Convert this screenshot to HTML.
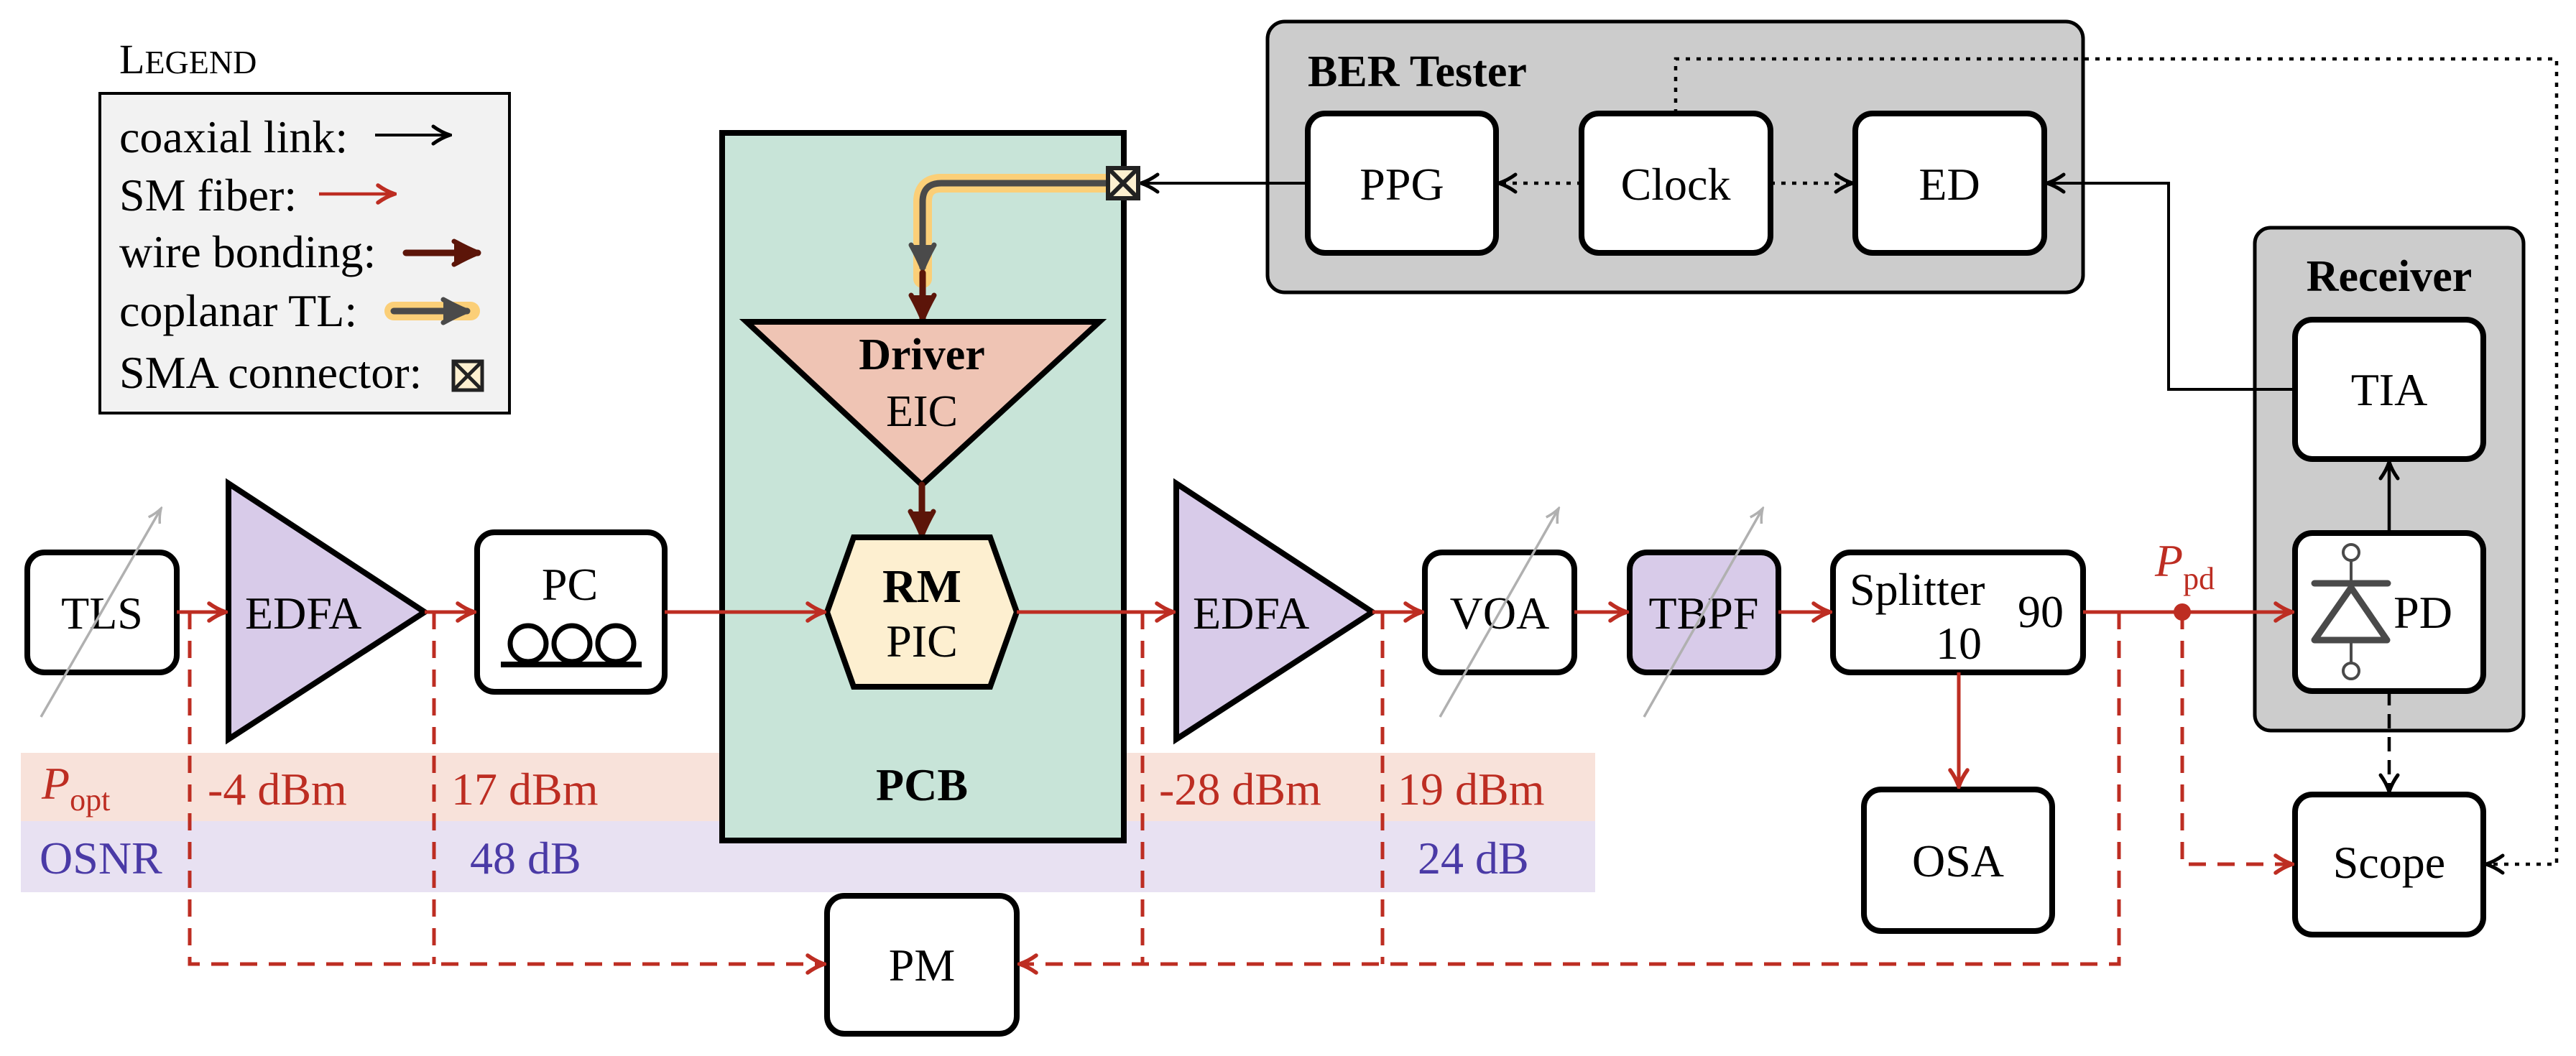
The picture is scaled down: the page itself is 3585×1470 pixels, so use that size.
<!DOCTYPE html>
<html><head><meta charset="utf-8"><style>
html,body{margin:0;padding:0;background:#fff;}
svg{display:block;font-family:"Liberation Serif","DejaVu Serif",serif;}
text{font-family:"Liberation Serif","DejaVu Serif",serif;}
</style></head><body>
<svg width="3585" height="1470" viewBox="0 0 3585 1470" xmlns="http://www.w3.org/2000/svg" font-family="Liberation Serif, DejaVu Serif, serif">
<defs>
<marker id="ar" markerUnits="userSpaceOnUse" viewBox="0 0 34 34" refX="31" refY="17" markerWidth="34" markerHeight="34" orient="auto"><path d="M8,5 Q19,13 31,17 Q19,21 8,29" fill="none" stroke="#bd2d22" stroke-width="5.5" stroke-linecap="round"/></marker>
<marker id="ak" markerUnits="userSpaceOnUse" viewBox="0 0 34 34" refX="31" refY="17" markerWidth="34" markerHeight="34" orient="auto"><path d="M8,5 Q19,13 31,17 Q19,21 8,29" fill="none" stroke="#000" stroke-width="5" stroke-linecap="round"/></marker>
<marker id="ab" markerUnits="userSpaceOnUse" viewBox="0 0 40 40" refX="37" refY="20" markerWidth="40" markerHeight="40" orient="auto"><path d="M4,4 Q22,14 37,20 Q22,26 4,36" fill="#5c1509" stroke="#5c1509" stroke-width="7" stroke-linejoin="round" stroke-linecap="round"/></marker>
<marker id="ag" markerUnits="userSpaceOnUse" viewBox="0 0 40 40" refX="37" refY="20" markerWidth="40" markerHeight="40" orient="auto"><path d="M4,4 Q22,14 37,20 Q22,26 4,36" fill="#4a4a4a" stroke="#4a4a4a" stroke-width="7" stroke-linejoin="round" stroke-linecap="round"/></marker>
<marker id="agr" markerUnits="userSpaceOnUse" viewBox="0 0 30 30" refX="27" refY="15" markerWidth="30" markerHeight="30" orient="auto"><path d="M8,6 Q17,12 27,15 Q17,18 8,24" fill="none" stroke="#b0b0b0" stroke-width="3.5"/></marker>
</defs>

<rect x="29" y="1048" width="2191" height="95" fill="#f8e2da"/>
<rect x="29" y="1143" width="2191" height="99" fill="#e8e1f2"/>

<text x="166" y="102" font-size="58">L<tspan font-size="46">EGEND</tspan></text>
<rect x="139" y="130" width="570" height="445" fill="#f2f2f2" stroke="#000" stroke-width="4"/>
<g font-size="64">
<text x="166" y="212">coaxial link:</text>
<text x="166" y="293">SM fiber:</text>
<text x="166" y="372">wire bonding:</text>
<text x="166" y="454">coplanar TL:</text>
<text x="166" y="540">SMA connector:</text>
</g>
<line x1="522" y1="188" x2="626" y2="188" stroke="#000" stroke-width="4" marker-end="url(#ak)"/>
<line x1="444" y1="270" x2="549" y2="270" stroke="#bd2d22" stroke-width="4.5" marker-end="url(#ar)"/>
<line x1="565" y1="352" x2="665" y2="352" stroke="#5c1509" stroke-width="9" stroke-linecap="round" marker-end="url(#ab)"/>
<line x1="548" y1="433" x2="655" y2="433" stroke="#fbcf78" stroke-width="26" stroke-linecap="round"/>
<line x1="548" y1="433" x2="650" y2="433" stroke="#4a4a4a" stroke-width="9" stroke-linecap="round" marker-end="url(#ag)"/>
<g stroke="#222" stroke-width="5"><rect x="631" y="503" width="40" height="40" fill="#fdf0d0"/><line x1="631" y1="503" x2="671" y2="543"/><line x1="671" y1="503" x2="631" y2="543"/></g>

<rect x="1764" y="30" width="1135" height="377" rx="24" fill="#cccccc" stroke="#000" stroke-width="5"/>
<text x="1820" y="120" font-size="62" font-weight="bold">BER Tester</text>
<g fill="#fff" stroke="#000" stroke-width="8">
<rect x="1820" y="158" width="262" height="194" rx="24"/>
<rect x="2201" y="158" width="263" height="194" rx="24"/>
<rect x="2582" y="158" width="263" height="194" rx="24"/>
</g>
<g font-size="64" text-anchor="middle">
<text x="1951" y="278">PPG</text><text x="2332" y="278">Clock</text><text x="2713" y="278">ED</text>
</g>
<g stroke="#000" stroke-width="4.5" fill="none" stroke-dasharray="6 9">
<line x1="2201" y1="255" x2="2086" y2="255" marker-end="url(#ak)"/>
<line x1="2464" y1="255" x2="2578" y2="255" marker-end="url(#ak)"/>
<polyline points="2332,158 2332,82 3558,82 3558,1203 3460,1203" marker-end="url(#ak)"/>
</g>

<rect x="1005" y="185" width="559" height="985" fill="#c8e4d8" stroke="#000" stroke-width="8"/>
<text x="1283" y="1114" font-size="64" font-weight="bold" text-anchor="middle">PCB</text>
<path d="M1560,255 H1310 Q1284,255 1284,281 V388" fill="none" stroke="#fbcf78" stroke-width="26" stroke-linecap="round"/>
<path d="M1560,255 H1310 Q1284,255 1284,281 V374" fill="none" stroke="#4a4a4a" stroke-width="9" marker-end="url(#ag)"/>
<line x1="1284" y1="380" x2="1284" y2="444" stroke="#5c1509" stroke-width="9" stroke-linecap="round" marker-end="url(#ab)"/>
<line x1="1820" y1="255" x2="1588" y2="255" stroke="#000" stroke-width="4" marker-end="url(#ak)"/>
<g stroke="#222" stroke-width="6"><rect x="1542" y="234" width="42" height="42" fill="#fdf0d0"/><line x1="1542" y1="234" x2="1584" y2="276"/><line x1="1584" y1="234" x2="1542" y2="276"/></g>

<polygon points="1039,448 1530,448 1283,675" fill="#efc4b4" stroke="#000" stroke-width="8"/>
<text x="1283" y="514" font-size="62" font-weight="bold" text-anchor="middle">Driver</text>
<text x="1283" y="593" font-size="62" text-anchor="middle">EIC</text>
<line x1="1283" y1="675" x2="1283" y2="745" stroke="#5c1509" stroke-width="9" stroke-linecap="round" marker-end="url(#ab)"/>
<polygon points="1188,748 1378,748 1415,852 1378,956 1188,956 1151,852" fill="#fdefd0" stroke="#000" stroke-width="8"/>
<text x="1283" y="838" font-size="66" font-weight="bold" text-anchor="middle">RM</text>
<text x="1283" y="914" font-size="64" text-anchor="middle">PIC</text>

<g fill="#fff" stroke="#000" stroke-width="8">
<rect x="38" y="769" width="208" height="167" rx="24"/>
<rect x="664" y="741" width="261" height="222" rx="24"/>
<rect x="1983" y="769" width="208" height="167" rx="24"/>
<rect x="2268" y="769" width="207" height="167" rx="24" fill="#d8cbe9"/>
<rect x="2551" y="769" width="348" height="167" rx="24"/>
<rect x="2594" y="1099" width="262" height="197" rx="24"/>
<rect x="1151" y="1247" width="264" height="192" rx="24"/>
</g>
<polygon points="318,673 591,852 318,1029" fill="#d8cbe9" stroke="#000" stroke-width="8"/>
<polygon points="1637,673 1910,852 1637,1029" fill="#d8cbe9" stroke="#000" stroke-width="8"/>
<g font-size="64">
<text x="142" y="875" text-anchor="middle">TLS</text>
<text x="341" y="875">EDFA</text>
<text x="1660" y="875">EDFA</text>
<text x="793" y="835" text-anchor="middle">PC</text>
<text x="2087" y="875" text-anchor="middle">VOA</text>
<text x="2371" y="875" text-anchor="middle">TBPF</text>
<text x="2574" y="842">Splitter</text>
<text x="2808" y="873">90</text>
<text x="2726" y="917" text-anchor="middle">10</text>
<text x="2725" y="1220" text-anchor="middle">OSA</text>
<text x="1283" y="1365" text-anchor="middle">PM</text>
</g>
<g fill="none" stroke="#000" stroke-width="7">
<circle cx="735" cy="896" r="25"/><circle cx="796" cy="896" r="25"/><circle cx="857" cy="896" r="25"/>
<line x1="697" y1="925" x2="893" y2="925" stroke-width="8"/>
</g>
<g stroke="#b0b0b0" stroke-width="3.5">
<line x1="57" y1="998" x2="224" y2="708" marker-end="url(#agr)"/>
<line x1="2004" y1="998" x2="2169" y2="708" marker-end="url(#agr)"/>
<line x1="2288" y1="998" x2="2453" y2="708" marker-end="url(#agr)"/>
</g>

<rect x="3138" y="317" width="374" height="700" rx="22" fill="#cccccc" stroke="#000" stroke-width="5"/>
<text x="3325" y="405" font-size="62" font-weight="bold" text-anchor="middle">Receiver</text>
<g fill="#fff" stroke="#000" stroke-width="8">
<rect x="3194" y="445" width="262" height="194" rx="24"/>
<rect x="3194" y="742" width="262" height="220" rx="24"/>
<rect x="3194" y="1106" width="262" height="195" rx="24"/>
</g>
<g font-size="64" text-anchor="middle">
<text x="3325" y="564">TIA</text>
<text x="3372" y="874">PD</text>
<text x="3325" y="1222">Scope</text>
</g>
<g stroke="#4a4a4a" fill="none">
<circle cx="3272" cy="769" r="11" stroke-width="4" fill="#fff"/>
<circle cx="3272" cy="934" r="11" stroke-width="4" fill="#fff"/>
<line x1="3272" y1="780" x2="3272" y2="812" stroke-width="4"/>
<line x1="3272" y1="891" x2="3272" y2="923" stroke-width="4"/>
<line x1="3221" y1="812" x2="3323" y2="812" stroke-width="9" stroke-linecap="round"/>
<polygon points="3272,818 3322,891 3221,891" stroke-width="9" stroke-linejoin="round"/>
</g>
<line x1="3325" y1="742" x2="3325" y2="643" stroke="#000" stroke-width="4.5" marker-end="url(#ak)"/>
<line x1="3325" y1="962" x2="3325" y2="1102" stroke="#000" stroke-width="4.5" stroke-dasharray="20 12" marker-end="url(#ak)"/>
<polyline points="3194,542 3018,542 3018,255 2849,255" fill="none" stroke="#000" stroke-width="4" marker-end="url(#ak)"/>

<g stroke="#bd2d22" stroke-width="5" fill="none">
<line x1="246" y1="852" x2="314" y2="852" marker-end="url(#ar)"/>
<line x1="591" y1="852" x2="660" y2="852" marker-end="url(#ar)"/>
<line x1="925" y1="852" x2="1147" y2="852" marker-end="url(#ar)"/>
<line x1="1415" y1="852" x2="1633" y2="852" marker-end="url(#ar)"/>
<line x1="1910" y1="852" x2="1979" y2="852" marker-end="url(#ar)"/>
<line x1="2191" y1="852" x2="2264" y2="852" marker-end="url(#ar)"/>
<line x1="2475" y1="852" x2="2547" y2="852" marker-end="url(#ar)"/>
<line x1="2899" y1="852" x2="3190" y2="852" marker-end="url(#ar)"/>
<line x1="2726" y1="936" x2="2726" y2="1095" marker-end="url(#ar)"/>
</g>
<circle cx="3037" cy="852" r="12" fill="#bd2d22"/>
<text x="2999" y="802" font-size="64" font-style="italic" fill="#bd2d22">P<tspan font-size="44" font-style="normal" dy="18">pd</tspan></text>

<g stroke="#bd2d22" stroke-width="5" fill="none" stroke-dasharray="24 16">
<polyline points="264,852 264,1342 1147,1342" marker-end="url(#ar)"/>
<line x1="604" y1="852" x2="604" y2="1342"/>
<polyline points="2949,852 2949,1342 1419,1342" marker-end="url(#ar)"/>
<line x1="1590" y1="852" x2="1590" y2="1342"/>
<line x1="1924" y1="852" x2="1924" y2="1342"/>
<polyline points="3037,852 3037,1203 3190,1203" marker-end="url(#ar)"/>
</g>

<g font-size="64" fill="#bd2d22">
<text x="58" y="1112" font-style="italic">P<tspan font-size="44" font-style="normal" dy="16">opt</tspan></text>
<text x="289" y="1120">-4 dBm</text>
<text x="628" y="1120">17 dBm</text>
<text x="1613" y="1120">-28 dBm</text>
<text x="1945" y="1120">19 dBm</text>
</g>
<g font-size="64" fill="#4a3aa6">
<text x="55" y="1216">OSNR</text>
<text x="654" y="1216">48 dB</text>
<text x="1973" y="1216">24 dB</text>
</g>
</svg>
</body></html>
